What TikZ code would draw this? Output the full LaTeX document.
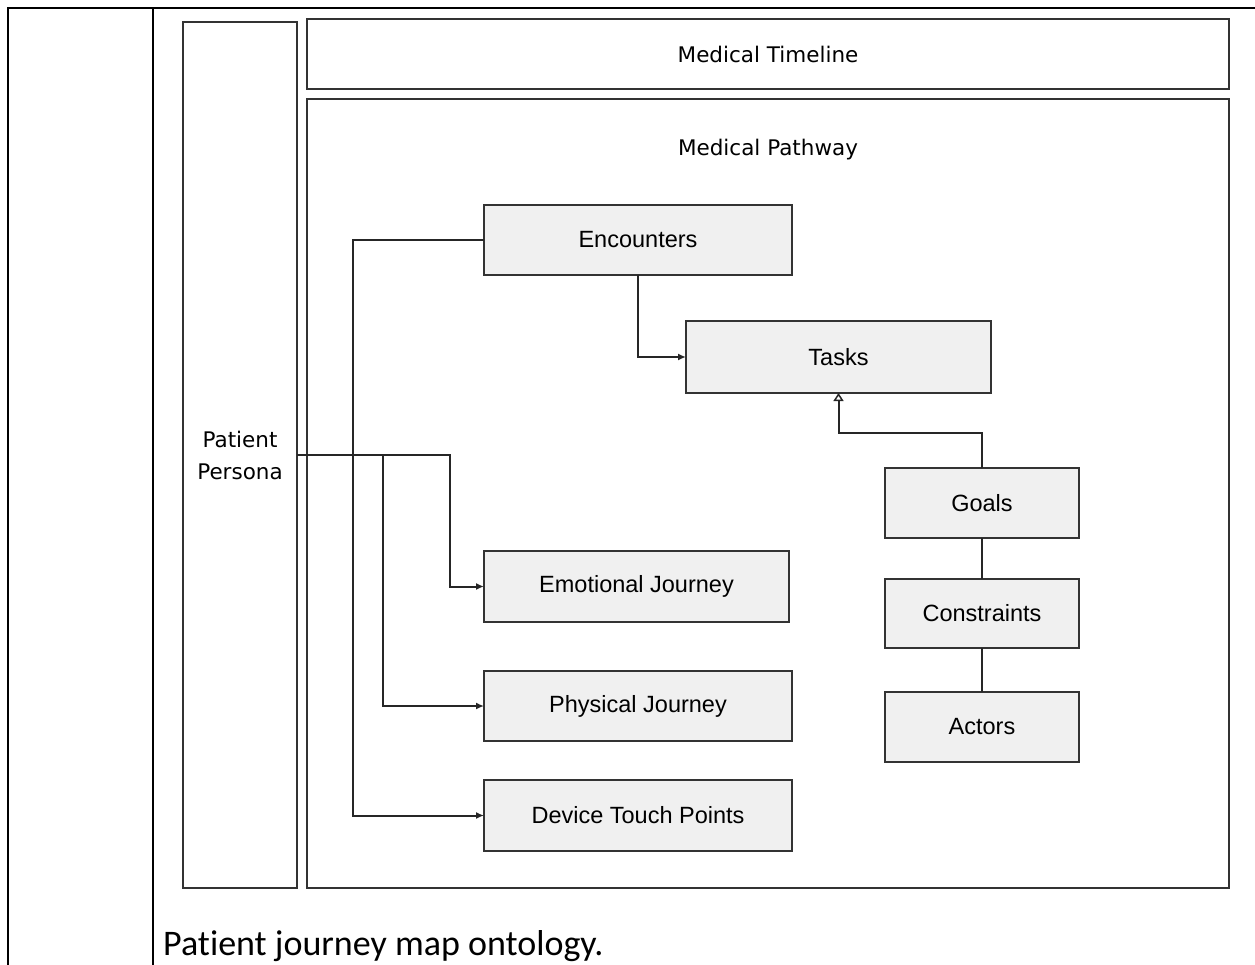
\documentclass[tikz,border=0pt]{standalone}
\usepackage{fontspec}
\setmainfont{Liberation Sans}
\newfontfamily\titlefont{DejaVu Sans}
\newfontfamily\capfont[Ligatures=NoCommon]{Carlito}
\usetikzlibrary{arrows.meta}
\begin{document}
\begin{tikzpicture}[x=1pt,y=-1pt,
  frameline/.style={line width=2.5pt, black},
  bigbox/.style={draw=black!80, line width=2pt, outer sep=0pt, inner sep=0pt,
    font=\titlefont\fontsize{21.5}{32}\selectfont, align=center},
  box/.style={draw=black!80, line width=2pt, fill=black!6, outer sep=0pt,
    font=\fontsize{23.5}{27}\selectfont},
  conn/.style={draw=black!85, line width=2pt},
  arr/.style={conn, -{Latex[length=8pt,width=7pt]}},
  gen/.style={conn, -{Triangle[open, length=8pt, width=10pt, line width=1.5pt]}},
]
\useasboundingbox (0,0) rectangle (1255,965);
% outer frame
\draw[frameline] (8,965) -- (8,8) -- (1255,8);
\draw[frameline] (153,8) -- (153,965);
% big boxes
\node[bigbox, minimum width=114pt, minimum height=866pt] (per) at (240,455) {Patient\\Persona};
\node[bigbox, minimum width=922pt, minimum height=70pt] (tl) at (768,54) {Medical Timeline};
\node[bigbox, minimum width=922pt, minimum height=789pt,
  label={[anchor=center, yshift=-51pt, font=\titlefont\fontsize{21.5}{25}\selectfont]north:Medical Pathway}] (pw) at (768,493.5) {};
% inner boxes
\node[box, minimum width=308pt, minimum height=70pt] (enc) at (638,240) {Encounters};
\node[box, minimum width=305pt, minimum height=72pt] (tasks) at (838.5,357) {Tasks};
\node[box, minimum width=194pt, minimum height=70pt] (goals) at (982,503) {Goals};
\node[box, minimum width=194pt, minimum height=69pt] (con) at (982,613.5) {Constraints};
\node[box, minimum width=194pt, minimum height=70pt] (act) at (982,727) {Actors};
\node[box, minimum width=305pt, minimum height=71pt] (emo) at (636.5,586.5) {Emotional Journey};
\node[box, minimum width=308pt, minimum height=70pt] (phy) at (638,706) {Physical Journey};
\node[box, minimum width=308pt, minimum height=71pt] (dev) at (638,815.5) {Device Touch Points};
% bend coordinates
\coordinate (vx) at (353,0);
\coordinate (px) at (383,0);
\coordinate (ex) at (450,0);
% connectors
\draw[arr] (enc.west) -- (enc.west -| vx) |- (dev.west);
\draw[arr] (per.east) -- (per.east -| ex) |- (emo.west);
\draw[arr] (per.east -| px) |- (phy.west);
\draw[arr] (enc.south) |- (tasks.west);
\draw[gen] (goals.north) -- ++(0,-35) -| (tasks.south);
\draw[conn] (goals.south) -- (con.north);
\draw[conn] (con.south) -- (act.north);
% caption
\node[anchor=base west, inner sep=0pt, font=\capfont\fontsize{36}{40}\selectfont] (cap) at (163,955) {Patient journey map ontology.};
\end{tikzpicture}
\end{document}
